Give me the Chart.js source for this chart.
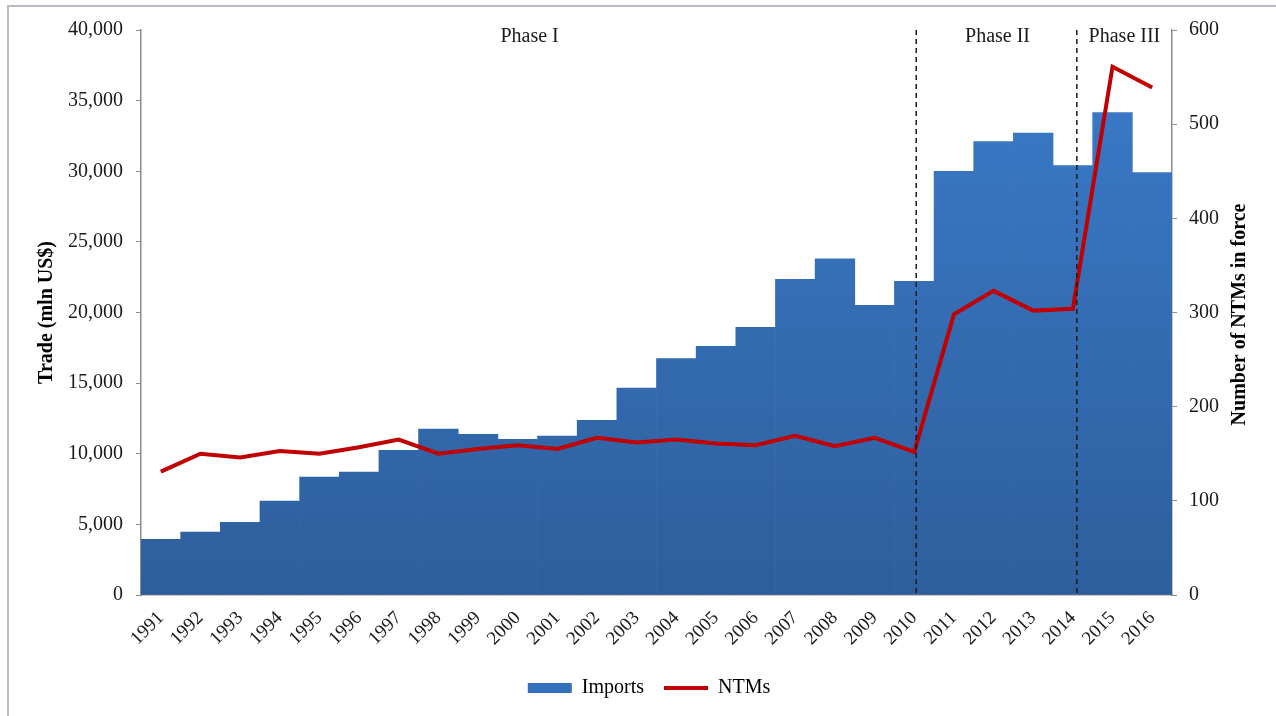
<!DOCTYPE html>
<html>
<head>
<meta charset="utf-8">
<script src="https://cdn.jsdelivr.net/npm/chart.js@4.4.0/dist/chart.umd.min.js"></script>
<style>
  html, body { margin: 0; padding: 0; background: #fff; }
  #wrap { position: relative; width: 1276px; height: 716px; }
  #frame { position: absolute; left: 7px; top: 5px; right: -4px; bottom: -4px; border: 2px solid #b9bcc4; pointer-events: none; }
  canvas { position: absolute; left: 0; top: 0; }
</style>
</head>
<body>
<div id="wrap">
  <canvas id="chart" width="1276" height="716"></canvas>
  <div id="frame"></div>
</div>
<script>
const years = ["1991", "1992", "1993", "1994", "1995", "1996", "1997", "1998", "1999", "2000",
  "2001", "2002", "2003", "2004", "2005", "2006", "2007", "2008", "2009", "2010",
  "2011", "2012", "2013", "2014", "2015", "2016"];
const imports = [3950, 4450, 5150, 6650, 8350, 8700, 10250, 11750, 11380, 11020,
  11250, 12370, 14650, 16730, 17600, 18950, 22350, 23800, 20500, 22200,
  30000, 32100, 32700, 30400, 34150, 29900];
const ntms = [131, 150, 146, 153, 150, 157, 165, 150, 155, 159,
  155, 167, 162, 165, 161, 159, 169, 158, 167, 152,
  298, 323, 302, 304, 561, 539];
const tradeTicks = [0, 5000, 10000, 15000, 20000, 25000, 30000, 35000, 40000];
const ntmTicks = [0, 100, 200, 300, 400, 500, 600];
// phase boundaries (category index) and phase labels
const phaseBreaks = [19.05, 23.1];
const phases = [
  { label: "Phase I", at: 9.3 },
  { label: "Phase II", at: 21.1 },
  { label: "Phase III", at: 24.3 }
];

const SERIF = "'Liberation Serif', 'Times New Roman', serif";

function barGradient(context) {
  const area = context.chart.chartArea;
  if (!area) return "#3673c0";
  const g = context.chart.ctx.createLinearGradient(0, area.top, 0, area.bottom);
  g.addColorStop(0, "#3b7ccb");
  g.addColorStop(1, "#2e5e9c");
  return g;
}

const overlay = {
  id: "overlay",
  afterDatasetsDraw(chart) {
    const ctx = chart.ctx;
    const x = chart.scales.x;
    const area = chart.chartArea;
    ctx.save();
    ctx.strokeStyle = "#1a1a1a";
    ctx.lineWidth = 1.5;
    ctx.setLineDash([5, 4]);
    phaseBreaks.forEach(b => {
      const px = x.getPixelForValue(b);
      ctx.beginPath();
      ctx.moveTo(px, area.top);
      ctx.lineTo(px, area.bottom);
      ctx.stroke();
    });
    ctx.setLineDash([]);
    ctx.fillStyle = "#1a1a1a";
    ctx.font = "20px " + SERIF;
    ctx.textAlign = "center";
    ctx.textBaseline = "middle";
    phases.forEach(p => {
      ctx.fillText(p.label, x.getPixelForValue(p.at), area.top + 7);
    });
    // axis titles
    ctx.font = "bold 20px " + SERIF;
    ctx.fillStyle = "#000";
    const midY = (area.top + area.bottom) / 2;
    ctx.save();
    ctx.translate(47, midY);
    ctx.rotate(-Math.PI / 2);
    ctx.fillText("Trade (mln US$)", 0, 0);
    ctx.restore();
    ctx.save();
    ctx.translate(1240, midY + 2);
    ctx.rotate(-Math.PI / 2);
    ctx.fillText("Number of NTMs in force", 0, 0);
    ctx.restore();
    ctx.restore();
  }
};

document.addEventListener("DOMContentLoaded", () => {
  const ctx = document.getElementById("chart").getContext("2d");
  new Chart(ctx, {
    data: {
      labels: years,
      datasets: [
        {
          type: "line",
          label: "NTMs",
          data: ntms,
          yAxisID: "y2",
          borderColor: "#c00000",
          backgroundColor: "#c00000",
          borderWidth: 4,
          pointRadius: 0,
          pointStyle: "line",
          tension: 0,
          order: 1
        },
        {
          type: "bar",
          label: "Imports",
          data: imports,
          yAxisID: "y",
          backgroundColor: barGradient,
          borderWidth: 0,
          categoryPercentage: 1,
          barPercentage: 1,
          pointStyle: "rect",
          order: 2
        }
      ]
    },
    options: {
      responsive: false,
      animation: false,
      layout: { padding: { top: 30, left: 22, right: 0, bottom: 8 } },
      plugins: {
        tooltip: { enabled: false },
        legend: {
          position: "bottom",
          reverse: true,
          labels: {
            usePointStyle: true,
            pointStyleWidth: 44,
            boxHeight: 10,
            padding: 20,
            color: "#000",
            font: { family: SERIF, size: 20 },
            generateLabels(chart) {
              const items = Chart.defaults.plugins.legend.labels.generateLabels(chart);
              items.forEach(it => {
                if (it.text === "Imports") {
                  it.fillStyle = "#3570bb";
                  it.strokeStyle = "#3570bb";
                  it.lineWidth = 0;
                }
              });
              return items;
            }
          }
        }
      },
      scales: {
        x: {
          grid: { display: false },
          border: { display: true, color: "#8c8c8c", width: 1.5 },
          ticks: {
            minRotation: 45,
            maxRotation: 45,
            color: "#1a1a1a",
            font: { family: SERIF, size: 19 },
            padding: 4
          },
          afterFit(scale) { scale.height = 63; }
        },
        y: {
          position: "left",
          min: 0,
          max: 40000,
          afterBuildTicks(scale) { scale.ticks = tradeTicks.map(v => ({ value: v })); },
          grid: { drawOnChartArea: false, tickLength: 5, color: "#8c8c8c" },
          border: { color: "#8c8c8c", width: 1.5 },
          ticks: {
            color: "#1a1a1a",
            padding: 13,
            font: { family: SERIF, size: 20 },
            callback: v => v.toLocaleString("en-US")
          },
          afterFit(scale) { scale.width = 119; }
        },
        y2: {
          position: "right",
          min: 0,
          max: 600,
          afterBuildTicks(scale) { scale.ticks = ntmTicks.map(v => ({ value: v })); },
          grid: { drawOnChartArea: false, tickLength: 5, color: "#8c8c8c" },
          border: { color: "#8c8c8c", width: 1.5 },
          ticks: {
            color: "#1a1a1a",
            padding: 12,
            font: { family: SERIF, size: 20 }
          },
          afterFit(scale) { scale.width = 104; }
        }
      }
    },
    plugins: [overlay]
  });
});
</script>
</body>
</html>
